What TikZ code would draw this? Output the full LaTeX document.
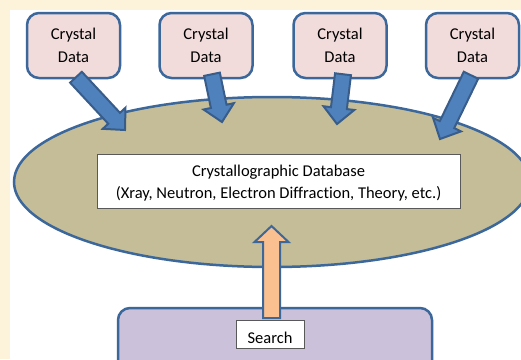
\documentclass[tikz,border=0pt]{standalone}
\usepackage{fontspec}
\setmainfont{Carlito}[Ligatures=NoCommon]
\usetikzlibrary{calc,shapes.geometric}
\definecolor{bgyel}{HTML}{FDF3DA}
\definecolor{pinkf}{HTML}{F2DCDB}
\definecolor{bordb}{HTML}{3C679A}
\definecolor{arrf}{HTML}{4F81BD}
\definecolor{arrb}{HTML}{385D8A}
\definecolor{olive}{HTML}{C4BD97}
\definecolor{lav}{HTML}{CCC1DA}
\definecolor{peach}{HTML}{FAC090}
\newcommand{\blockarr}[6]{%
  \coordinate (tmpb) at ($(#2)!#5!(#1)$);
  \draw[#6] ($(#1)!#3!90:(#2)$) -- ($(tmpb)!#3!90:(#2)$) -- ($(tmpb)!#4!90:(#2)$) -- (#2)
    -- ($(tmpb)!#4!-90:(#2)$) -- ($(tmpb)!#3!-90:(#2)$) -- ($(#1)!#3!-90:(#2)$) -- cycle;}
\tikzset{
  txt/.style={font=\fontsize{16.5}{22.5}\selectfont, align=center},
  cbox/.style={txt, draw=bordb, fill=pinkf, line width=2.5pt, rounded corners=12pt,
    minimum width=93pt, minimum height=65pt, inner sep=0pt},
  bluearr/.style={fill=arrf, draw=arrb, line width=2pt, line join=miter},
  peacharr/.style={fill=peach, draw=bordb, line width=2pt, line join=miter},
  wbox/.style={txt, draw=black!65, fill=white, line width=0.8pt, inner sep=0pt},
}
\begin{document}
\begin{tikzpicture}[x=1pt,y=-1pt]
\useasboundingbox (0,0) rectangle (521,359);
\clip (0,0) rectangle (521,359);
\fill[bgyel] (0,0) rectangle (521,359);
\fill[white] (10,10) rectangle (525,365);
% database ellipse
\node[ellipse, draw=bordb, fill=olive, line width=2.5pt, minimum width=516pt, minimum height=170pt, inner sep=0pt] (db) at (272,182) {};
\node[wbox, minimum width=363pt, minimum height=54pt] (dbtext) at (278.5,181) {};
\node[txt, anchor=base, inner sep=0pt] (dbl1) at (278.5,176) {Crystallographic Database};
\node[txt, anchor=base, inner sep=0pt] (dbl2) at (278.5,198) {(Xray, Neutron, Electron Diffraction, Theory, etc.)};
% crystal data boxes
\node[cbox] (c1) at (73.5,45.5) {Crystal\\Data};
\node[cbox] (c2) at (206,45.5) {Crystal\\Data};
\node[cbox] (c3) at (340,45.5) {Crystal\\Data};
\node[cbox] (c4) at (472.5,45.5) {Crystal\\Data};
% arrow tips on the ellipse
\coordinate (t1) at (125,130);
\coordinate (t2) at (222,122);
\coordinate (t3) at (337,124);
\coordinate (t4) at (440,139);
\coordinate (s1) at ($(c1.south)+(2.5,-2)$);
\coordinate (s2) at ($(c2.south)+(6,-5)$);
\coordinate (s3) at ($(c3.south)+(3,-5)$);
\coordinate (s4) at ($(c4.south)+(-1.5,-4)$);
\blockarr{s1}{t1}{8pt}{15.5pt}{16pt}{bluearr}
\blockarr{s2}{t2}{8pt}{15.5pt}{16pt}{bluearr}
\blockarr{s3}{t3}{8pt}{15.5pt}{16pt}{bluearr}
\blockarr{s4}{t4}{8pt}{15.5pt}{16pt}{bluearr}
% search
\draw[draw=bordb, fill=lav, line width=2.5pt, rounded corners=12pt] (118,308) rectangle (432,375);
\coordinate (so) at (271.5,318);
\coordinate (to) at (271.5,226);
\blockarr{so}{to}{8.5pt}{17pt}{16pt}{peacharr}
\node[wbox, minimum width=68pt, minimum height=28pt, text depth=0pt, text height=18pt] (search) at (270,334) {Search};
\end{tikzpicture}
\end{document}
